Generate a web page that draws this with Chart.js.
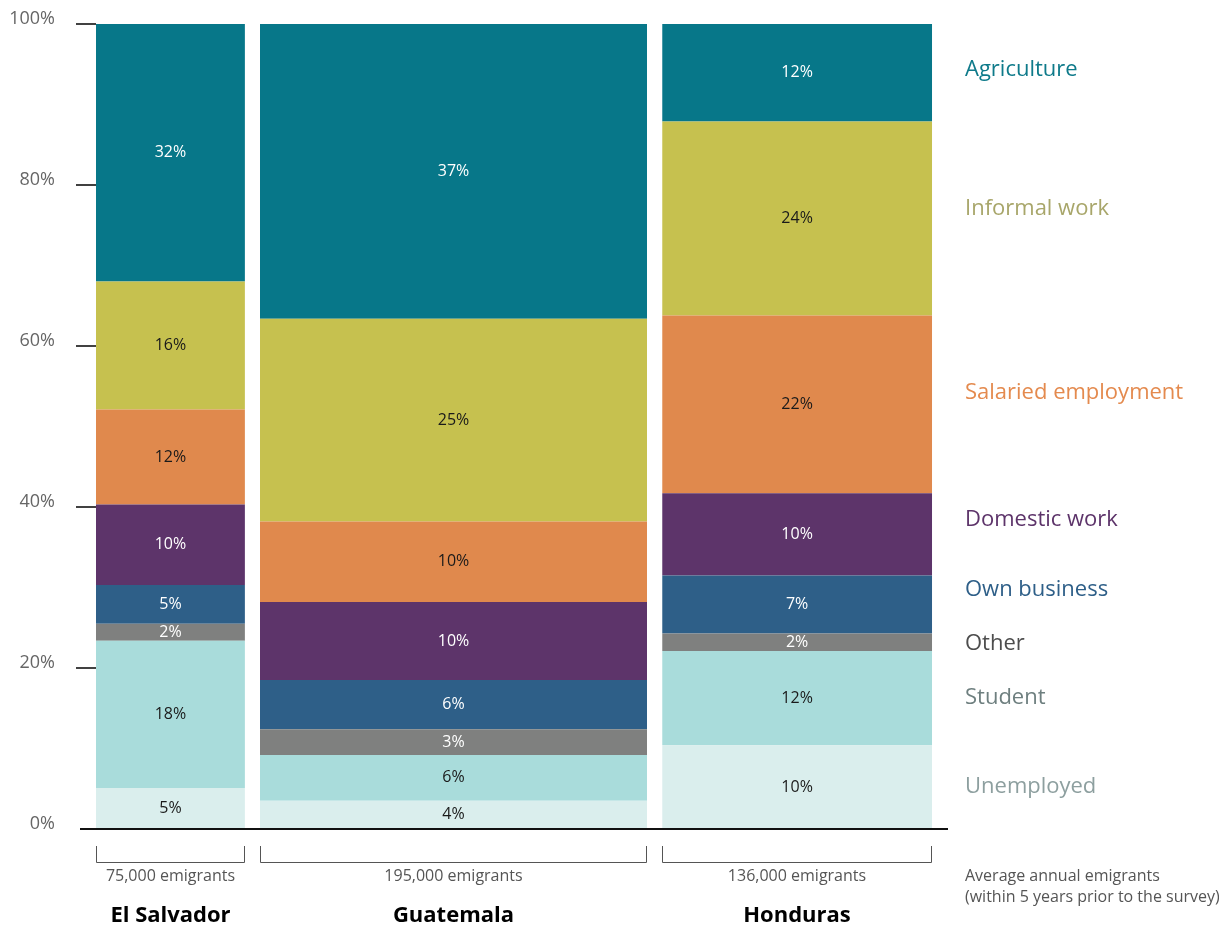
<!DOCTYPE html>
<html>
<head>
<meta charset="utf-8">
<script src="https://cdn.jsdelivr.net/npm/chart.js@4.4.1/dist/chart.umd.min.js"></script>
<style>
html,body{margin:0;padding:0;background:#fff;}
#wrap{position:relative;width:1219px;height:928px;}
</style>
</head>
<body>
<div id="wrap"><canvas id="c" width="1219" height="928"></canvas></div>
<script>
// ---- data ----
const categories = ['Unemployed','Student','Other','Own business','Domestic work','Salaried employment','Informal work','Agriculture'];
const countries = ['El Salvador','Guatemala','Honduras'];
const emigrants = [75000, 195000, 136000];
const elSalvador = [5.1, 18.3, 2.1, 4.8, 10.0, 11.8, 15.9, 32.0];
const guatemala  = [3.5, 5.7, 3.2, 6.1, 9.7, 10.0, 25.2, 36.6];
const honduras   = [10.4, 11.7, 2.2, 7.2, 10.2, 22.1, 24.1, 12.1];
const yTicks = [0, 20, 40, 60, 80, 100];
const noteLines = ['Average annual emigrants', '(within 5 years prior to the survey)'];

// ---- styles ----
const fillColors = ['#daeeed','#a9dcdb','#7f807f','#2e5f88','#5d346a','#e0894d','#c6c14f','#077789'];
const labelColors = ['#1a1a1a','#1a1a1a','#ffffff','#ffffff','#ffffff','#1a1a1a','#1a1a1a','#ffffff'];
const legendColors = ['#8d9f9f','#6e7f7f','#4d4d4d','#2e5f88','#5d346a','#e48a4e','#a8a66a','#0e7a8a'];
const legendYValue = [5.2, 16.3, 23.0, 29.7, 38.4, 54.2, 77.1, 94.3];
const GAP = 7.6;
const FONT = '"Open Sans", "Noto Sans", sans-serif';

const series = [elSalvador, guatemala, honduras];
const blocks = [];
let xCursor = 0;
countries.forEach((name, i) => {
  const w = emigrants[i] / 1000;
  blocks.push({name, x0: xCursor, x1: xCursor + w, values: series[i], emigrants: emigrants[i]});
  xCursor += w + GAP;
});

const datasets = [];
blocks.forEach(b => {
  let cum = 0;
  b.values.forEach((v, k) => {
    datasets.push({
      label: b.name + ' ' + categories[k],
      data: [{x: b.x0, y: cum + v}, {x: b.x1, y: cum + v}],
      fill: {value: cum},
      backgroundColor: fillColors[k],
      borderColor: fillColors[k],
      borderWidth: 0,
      pointRadius: 0,
      tension: 0
    });
    cum += v;
  });
});

const overlay = {
  id: 'overlay',
  afterDatasetsDraw(chart) {
    const ctx = chart.ctx;
    const xs = chart.scales.x, ys = chart.scales.y;
    const area = chart.chartArea;
    ctx.save();
    // segment labels
    ctx.textAlign = 'center';
    ctx.textBaseline = 'middle';
    ctx.font = '16px ' + FONT;
    blocks.forEach(b => {
      let cum = 0;
      const cx = (xs.getPixelForValue(b.x0) + xs.getPixelForValue(b.x1)) / 2;
      b.values.forEach((v, k) => {
        const cy = (ys.getPixelForValue(cum) + ys.getPixelForValue(cum + v)) / 2;
        ctx.fillStyle = labelColors[k];
        ctx.fillText(Math.round(v) + '%', cx, cy);
        cum += v;
      });
    });
    // y ticks
    ctx.strokeStyle = '#111';
    ctx.lineWidth = 1.6;
    const firstX = xs.getPixelForValue(blocks[0].x0);
    yTicks.forEach(t => {
      const y = Math.round(ys.getPixelForValue(t));
      if (t > 0) {
        ctx.beginPath();
        ctx.moveTo(area.left - 4, y);
        ctx.lineTo(firstX, y);
        ctx.stroke();
      }
      ctx.fillStyle = '#666';
      ctx.font = '18px ' + FONT;
      ctx.textAlign = 'right';
      ctx.textBaseline = 'middle';
      ctx.fillText(t + '%', 55, y - 5);
    });
    // baseline
    const y0 = ys.getPixelForValue(0);
    ctx.beginPath();
    ctx.moveTo(area.left, y0);
    ctx.lineTo(area.right, y0);
    ctx.lineWidth = 2;
    ctx.stroke();
    // brackets + labels
    ctx.lineWidth = 1;
    ctx.strokeStyle = '#555';
    blocks.forEach(b => {
      const l = Math.round(xs.getPixelForValue(b.x0)) + 0.5;
      const r = Math.round(xs.getPixelForValue(b.x1)) - 0.5;
      ctx.beginPath();
      ctx.moveTo(l, y0 + 17);
      ctx.lineTo(l, y0 + 33.5);
      ctx.lineTo(r, y0 + 33.5);
      ctx.lineTo(r, y0 + 17);
      ctx.stroke();
      const cx = (l + r) / 2;
      ctx.textAlign = 'center';
      ctx.textBaseline = 'middle';
      ctx.fillStyle = '#555';
      ctx.font = '16px ' + FONT;
      ctx.fillText(b.emigrants.toLocaleString('en-US') + ' emigrants', cx, y0 + 47);
      ctx.fillStyle = '#000';
      ctx.font = 'bold 22px ' + FONT;
      ctx.fillText(b.name, cx, y0 + 87);
    });
    // note
    ctx.textAlign = 'left';
    ctx.fillStyle = '#555';
    ctx.font = '16px ' + FONT;
    ctx.fillText(noteLines[0], 965, y0 + 47);
    ctx.fillText(noteLines[1], 965, y0 + 68);
    // legend labels
    ctx.font = '22px ' + FONT;
    categories.forEach((c, k) => {
      ctx.fillStyle = legendColors[k];
      ctx.fillText(c, 965, ys.getPixelForValue(legendYValue[k]));
    });
    ctx.restore();
  }
};

new Chart(document.getElementById('c'), {
  type: 'line',
  data: {datasets},
  options: {
    responsive: false,
    animation: false,
    events: [],
    layout: {padding: {left: 80, right: 271, top: 24, bottom: 99}},
    plugins: {legend: {display: false}, tooltip: {enabled: false}},
    scales: {
      x: {type: 'linear', min: -8.06, max: 429.2, display: false},
      y: {type: 'linear', min: 0, max: 100, display: false}
    }
  },
  plugins: [overlay]
});
</script>
</body>
</html>
